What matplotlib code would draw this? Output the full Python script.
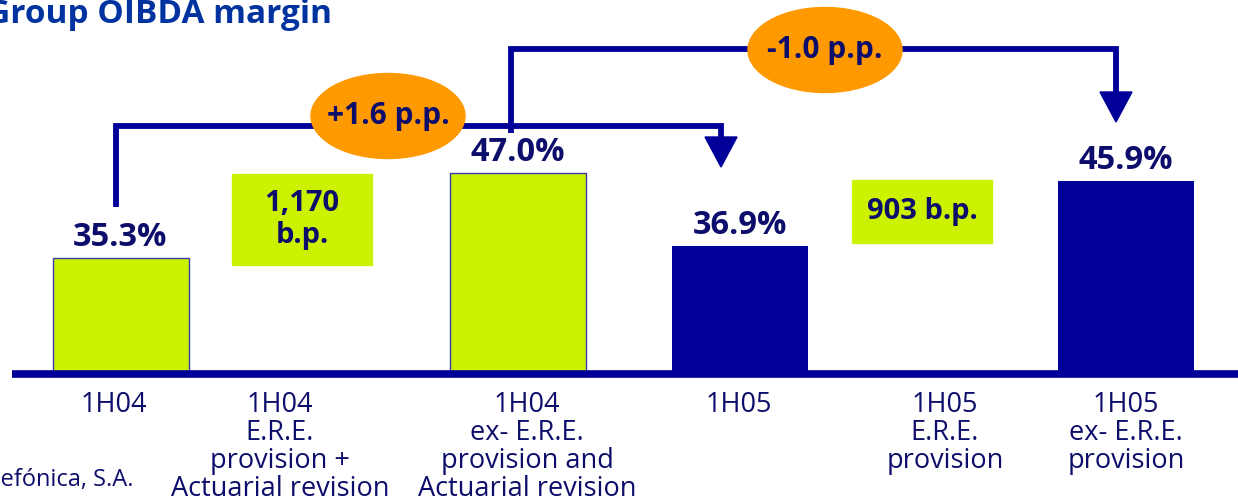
import matplotlib.pyplot as plt
from matplotlib.patches import Ellipse, Polygon, Rectangle

# data
categories = ['1H04',
              '1H04\nE.R.E.\nprovision +\nActuarial revision',
              '1H04\nex- E.R.E.\nprovision and\nActuarial revision',
              '1H05',
              '1H05\nE.R.E.\nprovision',
              '1H05\nex- E.R.E.\nprovision']
bar_labels = ['1H04', '1H04 ex-ERE', '1H05', '1H05 ex-ERE']
bar_values = [35.3, 47.0, 36.9, 45.9]
bar_colors = ['#ccf200', '#ccf200', '#000099', '#000099']
effect_texts = ['1,170\nb.p.', '903 b.p.']
change_texts = ['+1.6 p.p.', '-1.0 p.p.']

NAVY = '#000099'
DARK = '#0d0d6b'
LIME = '#ccf200'
ORANGE = '#ff9900'

plt.rcParams['font.family'] = ['Open Sans', 'DejaVu Sans']

# layout (pixels of the 1238x498 picture)
W, H = 1238, 498
BASE_PX = 374
K = 7.26          # px per margin point
V0 = 19.3         # margin value at the baseline


def py(y):
    # pixel row -> data value
    return V0 - (y - BASE_PX) / K


bar_x = [120.5, 517.5, 740, 1125.5]
label_x = [114, 280, 527, 739, 945, 1126]

fig = plt.figure(figsize=(W / 100, H / 100), dpi=100)
ax = fig.add_axes([0, 0, 1, 1])
ax.set_xlim(0, W)
ax.set_ylim(py(H), py(0))
ax.axis('off')

# bars
bars = ax.bar(bar_x, [v - V0 for v in bar_values], bottom=V0, width=136,
              color=bar_colors, zorder=2)
for b, c in zip(bars, bar_colors):
    if c == LIME:
        b.set_edgecolor('#3a3ab0')
        b.set_linewidth(1.0)
for x, v in zip(bar_x, bar_values):
    ax.annotate(f'{v:.1f}%', (x, v), xytext=(0, 3), textcoords='offset points',
                ha='center', va='bottom', fontsize=23.5, fontweight='bold',
                color=DARK)

# baseline
ax.plot([12, W], [V0, V0], color=NAVY, lw=5.5, solid_capstyle='butt', zorder=3)

# category labels
for x, lab in zip(label_x, categories):
    ax.text(x, py(391), lab, ha='center', va='top', fontsize=19.5,
            color=DARK, linespacing=1.0)

# E.R.E. effect boxes
for (x0, y0, x1, y1), t in zip([(232, 174, 372, 265), (852, 180, 992, 243)],
                               effect_texts):
    ax.add_patch(Rectangle((x0, py(y1)), x1 - x0, py(y0) - py(y1),
                           color=LIME, zorder=2))
    ax.text((x0 + x1) / 2, py((y0 + y1) / 2), t, ha='center', va='center',
            fontsize=21, fontweight='bold', color=DARK, linespacing=1.1,
            zorder=3)

# connector arrows
paths = [[(116, 207), (116, 126), (721, 126), (721, 138)],
         [(511, 133), (511, 49), (1116, 49), (1116, 93)]]
heads = [(721, 137, 167), (1116, 92, 122)]
for p in paths:
    ax.plot([q[0] for q in p], [py(q[1]) for q in p], color=NAVY, lw=4.2,
            solid_joinstyle='miter', solid_capstyle='butt', zorder=4)
for hx, hy0, hy1 in heads:
    ax.add_patch(Polygon([(hx - 16, py(hy0)), (hx + 16, py(hy0)),
                          (hx, py(hy1))], closed=True, color=NAVY, zorder=4))

# change bubbles
for (cx, cy), t in zip([(388, 116), (825, 50)], change_texts):
    ax.add_patch(Ellipse((cx, py(cy)), 154, 85 / K, color=ORANGE, zorder=5))
    ax.text(cx, py(cy), t, ha='center', va='center', fontsize=21.5,
            fontweight='bold', color=DARK, zorder=6)

# title and source
ax.text(-14, py(15), 'Group OIBDA margin', ha='left', va='center',
        fontsize=24, fontweight='bold', color='#0033a0')
ax.text(134, py(480), 'Telefónica, S.A.', ha='right', va='center',
        fontsize=17, color=DARK)

fig.savefig('out.png', dpi=100)
